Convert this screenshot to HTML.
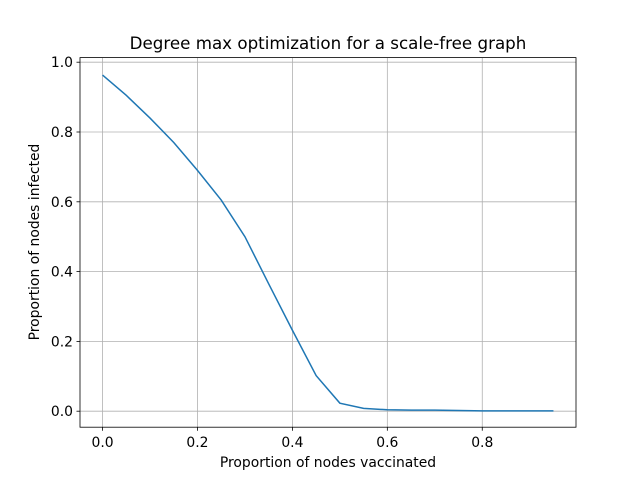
<!DOCTYPE html>
<html><head><meta charset="utf-8"><style>body{margin:0;background:#fff}svg{display:block;font-family:"DejaVu Sans","Liberation Sans",sans-serif}</style></head>
<body>
<svg width="640" height="480">
<rect width="640" height="480" fill="#fff"/>
<g id="grid"></g>
<rect x="80" y="57.6" width="496" height="369.6" fill="none" stroke="#000" stroke-width="0.8"/>
<g id="ticks" font-size="13.9"></g>
<polyline id="line" fill="none" stroke="#1f77b4" stroke-width="1.5"/>
<text x="328" y="49" text-anchor="middle" font-size="16.7">Degree max optimization for a scale-free graph</text>
<text x="328" y="467" text-anchor="middle" font-size="13.9">Proportion of nodes vaccinated</text>
<text transform="translate(39,242) rotate(-90)" text-anchor="middle" font-size="13.9">Proportion of nodes infected</text>
</svg>
<script>
const xVals=[0,0.05,0.1,0.15,0.2,0.25,0.3,0.35,0.4,0.45,0.5,0.55,0.6,0.65,0.7,0.75,0.8,0.85,0.9,0.95];
const yVals=[0.963,0.905,0.84,0.77,0.69,0.605,0.50,0.365,0.232,0.102,0.023,0.008,0.004,0.003,0.003,0.002,0.001,0.001,0.001,0.001];
const xTicks=[0,0.2,0.4,0.6,0.8];
const yTicks=[0,0.2,0.4,0.6,0.8,1.0];
const xTickLabels=["0.0","0.2","0.4","0.6","0.8"];
const yTickLabels=["0.0","0.2","0.4","0.6","0.8","1.0"];
const X=v=>80+(v+0.0475)/1.045*496;
const Y=v=>411.2-v*349;
const ns="http://www.w3.org/2000/svg";
const grid=document.getElementById('grid'),ticks=document.getElementById('ticks');
function mk(tag,attrs,parent,txt){const e=document.createElementNS(ns,tag);for(const k in attrs)e.setAttribute(k,attrs[k]);if(txt!==undefined)e.textContent=txt;parent.appendChild(e);return e;}
xTicks.forEach((t,i)=>{const x=X(t);
const g=mk('line',{x1:x,x2:x,y1:57.6,y2:427.2,stroke:'#b0b0b0','stroke-width':0.8},grid);


mk('line',{x1:x,x2:x,y1:427.2,y2:430.7,stroke:'#000','stroke-width':0.8},ticks);
const l=mk('text',{x:x,y:447,'text-anchor':'middle'},ticks,xTickLabels[i]);

});
yTicks.forEach((t,i)=>{const y=Y(t);
const g=mk('line',{x1:80,x2:576,y1:y,y2:y,stroke:'#b0b0b0','stroke-width':0.8},grid);


mk('line',{x1:76.5,x2:80,y1:y,y2:y,stroke:'#000','stroke-width':0.8},ticks);
const l=mk('text',{x:73,y:y+5,'text-anchor':'end'},ticks,yTickLabels[i]);

});
document.getElementById('line').setAttribute('points',xVals.map((x,i)=>X(x)+','+Y(yVals[i])).join(' '));
</script>
</body></html>
